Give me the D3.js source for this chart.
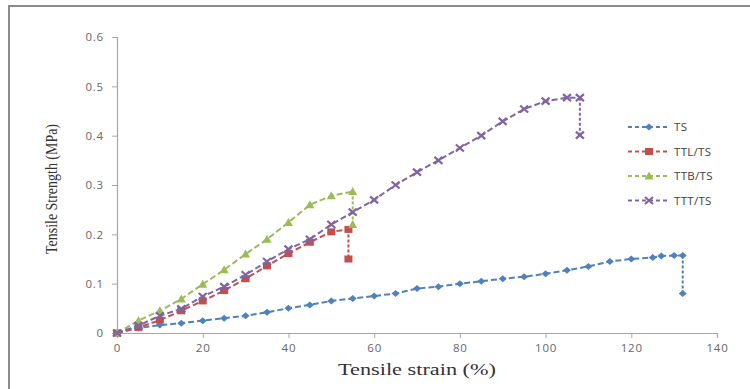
<!DOCTYPE html>
<html>
<head>
<meta charset="utf-8">
<script src="https://cdn.jsdelivr.net/npm/d3@7"></script>
<style>
  body { margin: 0; background: #fff; }
  #chart { width: 750px; height: 389px; }
</style>
</head>
<body>
<div id="chart"></div>
<script>
// tensile test data: strain (%) and strength (MPa)
let tsStrain  = [0, 5, 10, 15, 20, 25, 30, 35, 40, 45, 50, 55, 60, 65, 70, 75, 80, 85, 90, 95, 100, 105, 110, 115, 120, 125, 127, 130, 132, 132];
let tsStress  = [0, 0.01, 0.016, 0.02, 0.025, 0.03, 0.035, 0.042, 0.05, 0.057, 0.065, 0.07, 0.075, 0.08, 0.09, 0.094, 0.1, 0.105, 0.11, 0.114, 0.12, 0.127, 0.135, 0.145, 0.15, 0.153, 0.156, 0.157, 0.157, 0.08];

let ttlStrain = [0, 5, 10, 15, 20, 25, 30, 35, 40, 45, 50, 54, 54];
let ttlStress = [0, 0.011, 0.026, 0.045, 0.065, 0.086, 0.11, 0.136, 0.161, 0.184, 0.205, 0.21, 0.15];

let ttbStrain = [0, 5, 10, 15, 20, 25, 30, 35, 40, 45, 50, 55, 55];
let ttbStress = [0, 0.025, 0.045, 0.069, 0.099, 0.128, 0.16, 0.19, 0.224, 0.26, 0.278, 0.287, 0.22];

let tttStrain = [0, 5, 10, 15, 20, 25, 30, 35, 40, 45, 50, 55, 60, 65, 70, 75, 80, 85, 90, 95, 100, 105, 108, 108];
let tttStress = [0, 0.015, 0.035, 0.049, 0.074, 0.094, 0.118, 0.145, 0.17, 0.19, 0.22, 0.245, 0.27, 0.3, 0.326, 0.35, 0.375, 0.4, 0.429, 0.454, 0.47, 0.477, 0.477, 0.401];

let seriesNames = ["TS", "TTL/TS", "TTB/TS", "TTT/TS"];
let seriesColors = ["#4f81bd", "#c0504d", "#9bbb59", "#8064a2"];
let seriesMarkers = ["diamond", "square", "triangle", "cross"];
let xTicks = [0, 20, 40, 60, 80, 100, 120, 140];
let yTicks = [0, 0.1, 0.2, 0.3, 0.4, 0.5, 0.6];

let allSeries = [
  {strain: tsStrain, stress: tsStress},
  {strain: ttlStrain, stress: ttlStress},
  {strain: ttbStrain, stress: ttbStress},
  {strain: tttStrain, stress: tttStress}
].map(function(s, i){
  return {
    name: seriesNames[i],
    color: seriesColors[i],
    marker: seriesMarkers[i],
    points: s.strain.map(function(x, j){ return {x: x, y: s.stress[j]}; })
  };
});

let width = 750, height = 389;
let margin = {top: 37, left: 117, bottom: 56, right: 33};

let svg = d3.select("#chart")
            .append("svg")
            .attr("width", width)
            .attr("height", height)
            .style("font-family", "'Open Sans', sans-serif");

// outer frame (only top and left edges show)
svg.append("path")
    .attr("d", "M9,389 V6 H750")
    .attr("fill", "none")
    .attr("stroke", "#8c8c8c")
    .attr("stroke-width", 2);

let x = d3.scaleLinear()
          .domain([0, 140])
          .range([margin.left, width - margin.right]);
let y = d3.scaleLinear()
          .domain([0, 0.6])
          .range([height - margin.bottom, margin.top]);

let xAxis = svg.append("g")
    .attr("transform", "translate(0," + y(0) + ")")
    .call(d3.axisBottom(x).tickValues(xTicks).tickSize(5).tickPadding(4).tickFormat(d3.format("d")));

let yAxis = svg.append("g")
    .attr("transform", "translate(" + x(0) + ",0)")
    .call(d3.axisLeft(y).tickValues(yTicks).tickSize(5).tickPadding(8)
      .tickFormat(function(d){ return d === 0 ? "0" : d3.format(".1f")(d); }));

[xAxis, yAxis].forEach(function(a){
  a.select(".domain").attr("stroke", "#a6a6a6").attr("stroke-width", 1.2);
  a.selectAll(".tick line").attr("stroke", "#a6a6a6");
  a.selectAll(".tick text")
    .attr("fill", "#666")
    .style("font-size", "11.5px")
    .style("letter-spacing", "0.8px")
    .style("font-family", "'Open Sans', sans-serif");
});
xAxis.selectAll(".tick text").attr("dy", "0.85em");

// axis titles
svg.append("text")
    .attr("x", 417)
    .attr("y", 375)
    .attr("text-anchor", "middle")
    .attr("textLength", 158)
    .attr("lengthAdjust", "spacingAndGlyphs")
    .style("font-family", "'Liberation Serif', 'Times New Roman', serif")
    .style("font-size", "16px")
    .style("font-weight", "normal")
    .attr("fill", "#333")
    .text("Tensile strain (%)");

svg.append("text")
    .attr("transform", "translate(57,189) rotate(-90)")
    .attr("text-anchor", "middle")
    .attr("textLength", 130)
    .attr("lengthAdjust", "spacingAndGlyphs")
    .style("font-family", "'Liberation Serif', 'Times New Roman', serif")
    .style("font-size", "17px")
    .attr("fill", "#333")
    .text("Tensile Strength (MPa)");

function drawMarker(g, type, color){
  if(type === "diamond"){
    g.append("path").attr("d", "M0,-3.5 L4,0 L0,3.5 L-4,0 Z").attr("fill", color);
  }else if(type === "square"){
    g.append("rect").attr("x", -4).attr("y", -3.5).attr("width", 8).attr("height", 7).attr("fill", color);
  }else if(type === "triangle"){
    g.append("path").attr("d", "M0,-4.5 L4.5,3.5 L-4.5,3.5 Z").attr("fill", color);
  }else{
    g.append("path").attr("d", "M-4,-3.5 L4,3.5 M-4,3.5 L4,-3.5")
      .attr("stroke", color).attr("stroke-width", 2.2);
  }
}

let line = d3.line()
             .x(function(d){ return x(d.x); })
             .y(function(d){ return y(d.y); });

allSeries.forEach(function(s){
  let g = svg.append("g");
  let n = s.points.length;
  // loading curve
  g.append("path")
    .attr("d", line(s.points.slice(0, n - 1)))
    .attr("fill", "none")
    .attr("stroke", s.color)
    .attr("stroke-width", 2)
    .attr("stroke-dasharray", "6,3");
  // failure drop
  g.append("path")
    .attr("d", line(s.points.slice(n - 2)))
    .attr("fill", "none")
    .attr("stroke", s.color)
    .attr("stroke-width", 2)
    .attr("stroke-dasharray", "3,2");

  g.selectAll(".pt")
    .data(s.points)
    .enter()
    .append("g")
    .attr("class", "pt")
    .attr("transform", function(d){ return "translate(" + x(d.x) + "," + y(d.y) + ")"; })
    .each(function(){ drawMarker(d3.select(this), s.marker, s.color); });
});

// legend
let legend = svg.append("g").attr("transform", "translate(628,127)");
allSeries.forEach(function(s, i){
  let row = legend.append("g").attr("transform", "translate(0," + (i * 24.5) + ")");
  row.append("line")
    .attr("x1", 0).attr("x2", 42)
    .attr("stroke", s.color)
    .attr("stroke-width", 2)
    .attr("stroke-dasharray", "4,3");
  let m = row.append("g").attr("transform", "translate(21,0)");
  drawMarker(m, s.marker, s.color);
  row.append("text")
    .attr("x", 46)
    .attr("dy", "0.35em")
    .attr("fill", "#404040")
    .style("font-size", "11.5px")
    .style("letter-spacing", "0.3px")
    .text(s.name);
});
</script>
</body>
</html>
